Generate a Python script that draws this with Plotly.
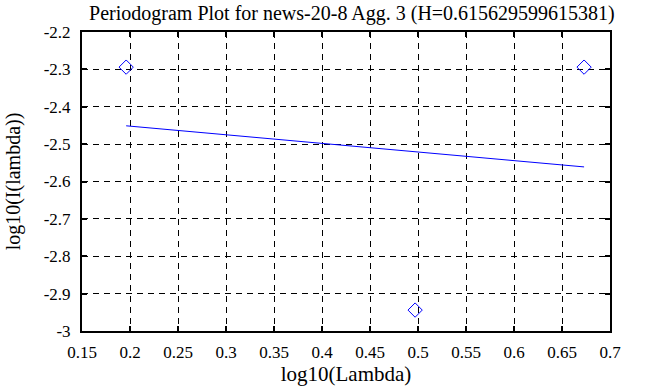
import plotly.graph_objects as go

# Data
log_lambda = [0.196, 0.497, 0.673]
log_I = [-2.294, -2.944, -2.294]
fit_x = [0.196, 0.673]
fit_y = [-2.451, -2.561]

title = "Periodogram Plot for news-20-8 Agg. 3 (H=0.615629599615381)"
x_ticks = [0.15, 0.2, 0.25, 0.3, 0.35, 0.4, 0.45, 0.5, 0.55, 0.6, 0.65, 0.7]
x_tick_text = ["0.15", "0.2", "0.25", "0.3", "0.35", "0.4", "0.45", "0.5", "0.55", "0.6", "0.65", "0.7"]
y_ticks = [-3, -2.9, -2.8, -2.7, -2.6, -2.5, -2.4, -2.3, -2.2]
y_tick_text = ["-3", "-2.9", "-2.8", "-2.7", "-2.6", "-2.5", "-2.4", "-2.3", "-2.2"]

font = "Liberation Serif"

fig = go.Figure()
fig.add_trace(go.Scatter(
    x=log_lambda, y=log_I, mode="markers",
    marker=dict(symbol="diamond-open", size=11, color="#0000ff", line=dict(width=1, color="#0000ff")),
    showlegend=False,
))
fig.add_trace(go.Scatter(
    x=fit_x, y=fit_y, mode="lines",
    line=dict(color="#0000ff", width=1),
    showlegend=False,
))

axis_common = dict(
    showline=True, linecolor="black", linewidth=2, mirror="ticks",
    ticks="inside", ticklen=5, tickwidth=2, tickcolor="black",
    showgrid=True, gridcolor="black", gridwidth=1, griddash="6px,5px",
    zeroline=False, automargin=False,
    tickfont=dict(family=font, size=17, color="black"),
)

fig.update_layout(
    width=647, height=387,
    margin=dict(l=82, r=37, t=32, b=56),
    paper_bgcolor="white", plot_bgcolor="white",
    title=dict(text=title, x=0.544, xanchor="center", y=0.966, yanchor="middle",
               font=dict(family=font, size=20, color="black")),
    xaxis=dict(range=[0.15, 0.7], tickvals=x_ticks, ticktext=x_tick_text, ticklabelstandoff=5,
               title=dict(text="log10(Lambda)", font=dict(family=font, size=21, color="black"), standoff=2),
               **axis_common),
    yaxis=dict(range=[-3, -2.2], tickvals=y_ticks, ticktext=y_tick_text, ticklabelstandoff=6,
               title=dict(text="log10(I(lambda))", font=dict(family=font, size=20, color="black"), standoff=18),
               **axis_common),
)

fig.write_html("out.html", config={"displayModeBar": False},
               post_script="document.body.style.margin='0px';")
